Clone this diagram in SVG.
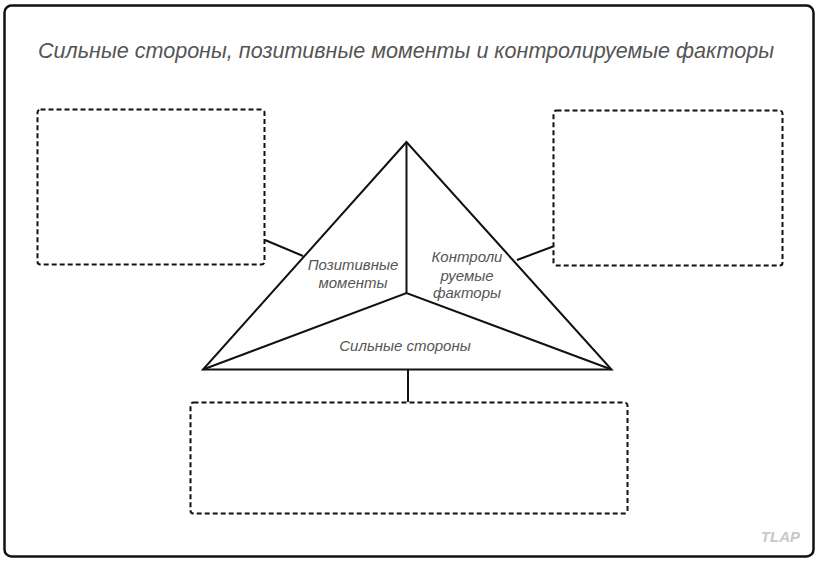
<svg xmlns="http://www.w3.org/2000/svg" width="819" height="562" viewBox="0 0 819 562">
<style>
.frame{fill:#fff;stroke:#111;stroke-width:2.5}
.box{fill:none;stroke:#111;stroke-width:2;stroke-dasharray:5 3}
.line{fill:none;stroke:#111;stroke-width:2;stroke-linejoin:miter}
.lbl{font-family:"Liberation Sans",Arial,sans-serif;font-style:italic;fill:#555;font-size:15px;text-anchor:middle}
</style>
<rect x="0" y="0" width="819" height="562" fill="#fff"/>
<rect class="frame" x="4.5" y="5.5" width="809" height="551" rx="7"/>
<text x="406" y="58" font-family="Liberation Sans, Arial, sans-serif" font-style="italic" font-size="22" fill="#555" text-anchor="middle" textLength="736" lengthAdjust="spacingAndGlyphs">Сильные стороны, позитивные моменты и контролируемые факторы</text>
<g id="box-left"><rect class="box" x="37.5" y="109.5" width="227" height="155" rx="3"/></g>
<g id="box-right"><rect class="box" x="553.5" y="110.5" width="229" height="155" rx="3"/></g>
<g id="box-bottom"><rect class="box" x="190.5" y="402.5" width="437" height="111" rx="3"/></g>
<g id="triangle">
<polygon class="line" points="406.5,142 203,369.5 611.5,369.5"/>
<polyline class="line" points="406.5,142 406.5,293"/>
<polyline class="line" points="203,369.5 406.5,293 611.5,369.5"/>
</g>
<g id="label-positive"><text class="lbl" x="353" y="270">Позитивные</text><text class="lbl" x="353" y="288">моменты</text></g>
<g id="label-controlled"><text class="lbl" x="467" y="262">Контроли</text><text class="lbl" x="467" y="281">руемые</text><text class="lbl" x="467" y="298">факторы</text></g>
<g id="label-strengths"><text class="lbl" x="405" y="351">Сильные стороны</text></g>
<g id="connectors">
<line class="line" x1="265" y1="240" x2="303" y2="256"/>
<line class="line" x1="517" y1="260" x2="553" y2="246.5"/>
<line class="line" x1="408" y1="369.5" x2="408" y2="402"/>
</g>
<text x="800" y="542" font-family="Liberation Sans, Arial, sans-serif" font-style="italic" font-weight="bold" font-size="15" fill="#c8c8c8" text-anchor="end">TLAP</text>
</svg>
